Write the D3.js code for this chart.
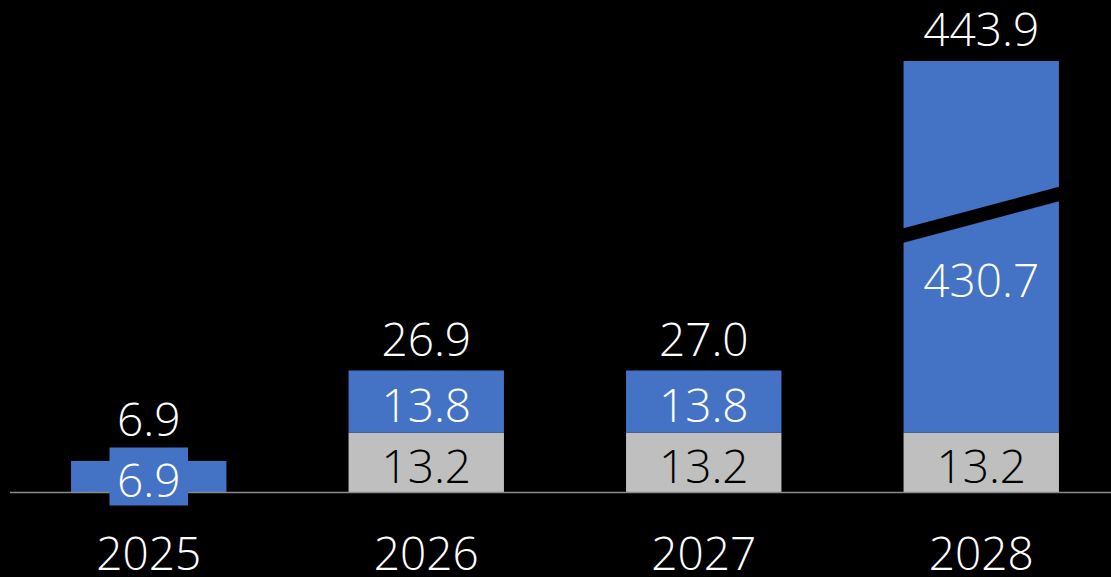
<!DOCTYPE html>
<html><head><meta charset="utf-8">
<script src="https://cdn.jsdelivr.net/npm/d3@7"></script>
<style>html,body{margin:0;padding:0;background:#000;} svg{display:block;}</style>
</head><body>
<svg id="chart" width="1111" height="577"></svg>
<script>
const categories = ["2025", "2026", "2027", "2028"];
const baseValues = [0, 13.2, 13.2, 13.2];
const growthValues = [6.9, 13.8, 13.8, 430.7];
const totalValues = [6.9, 26.9, 27.0, 443.9];
const brokenBars = [false, false, false, true];

const W = 1111, H = 577;
const BLUE = "#4472C4", GRAY = "#BFBFBF";
const FONT = "'Open Sans', 'Noto Sans', sans-serif";
const FS = 46;
const FW = 300;

const svg = d3.select("#chart").style("background", "#000");
svg.append("rect").attr("width", W).attr("height", H).attr("fill", "#000");

const x = d3.scaleBand().domain(categories).range([10, 1120]).paddingInner(0.44).paddingOuter(0.22);

const y0 = 492, k = 4.5, breakLo = 60, breakHi = 420, gapPx = 14.5;
const maxTotal = d3.max(totalValues);
const y = d3.scaleLinear()
  .domain([0, breakLo, breakHi, maxTotal])
  .range([y0, y0 - k * breakLo, y0 - k * breakLo - gapPx, 61]);

const segs = [];
categories.forEach((c, i) => {
  const total = baseValues[i] + growthValues[i];
  if (baseValues[i] > 0) segs.push({c, i, v0: 0, v1: baseValues[i], fill: GRAY, text: d3.format(".1f")(baseValues[i]), tc: "#000", box: false});
  segs.push({c, i, v0: baseValues[i], v1: total, fill: BLUE, text: d3.format(".1f")(growthValues[i]), tc: "#fff", box: true});
});

const bw = x.bandwidth();
// bars
svg.append("g").selectAll("rect").data(segs).join("rect")
  .attr("x", d => x(d.c))
  .attr("width", bw)
  .attr("y", d => y(d.v1))
  .attr("height", d => y(d.v0) - y(d.v1))
  .attr("fill", d => d.fill);

// break bands
const slope = 41 / 154;
const gBreak = svg.append("g");
categories.forEach((c, i) => {
  if (!brokenBars[i]) return;
  const xl = x(c) - 1, xr = x(c) + bw + 1, xc = x(c) + bw / 2;
  const lo = y(breakLo), hi = y(breakHi);
  const pts = [
    [xl, hi + slope * (xc - xl)], [xr, hi - slope * (xr - xc)],
    [xr, lo - slope * (xr - xc)], [xl, lo + slope * (xc - xl)]
  ];
  gBreak.append("polygon").attr("points", pts.map(p => p.join(",")).join(" ")).attr("fill", "#000");
});

// axis
const axis = d3.axisBottom(x).tickSize(0).tickSizeOuter(0).tickPadding(45);
const gAxis = svg.append("g").attr("transform", `translate(0,${y0 + 0.5})`).call(axis);
gAxis.select(".domain").attr("stroke", "#8a8a8a").attr("stroke-width", 1.5).attr("d", `M10,0H${W}`);
gAxis.selectAll("text").attr("fill", "#fff").style("font-family", FONT).style("font-size", FS + "px").style("font-weight", FW);

// segment labels
const boxTops = {};
const gLab = svg.append("g");
segs.forEach(d => {
  const total = baseValues[d.i] + growthValues[d.i];
  const crosses = brokenBars[d.i] && d.v1 > breakLo;
  const cy = crosses ? (y(0) + y(total)) / 2 : (y(d.v0) + y(d.v1)) / 2;
  const cx = x(d.c) + bw / 2;
  const t = gLab.append("text").attr("x", cx).attr("y", cy + 20.5)
    .attr("text-anchor", "middle").attr("fill", d.tc)
    .style("font-family", FONT).style("font-size", FS + "px").style("font-weight", FW).text(d.text);
  if (d.box) {
    const w = t.node().getComputedTextLength() + 15;
    gLab.insert("rect", () => t.node())
      .attr("x", cx - w / 2).attr("y", cy - 29).attr("width", w).attr("height", 58)
      .attr("fill", d.fill);
    boxTops[d.i] = Math.min(boxTops[d.i] ?? Infinity, cy - 29);
  }
});

// total labels
svg.append("g").selectAll("text").data(categories).join("text")
  .attr("x", c => x(c) + bw / 2)
  .attr("y", (c, i) => {
    const top = y(baseValues[i] + growthValues[i]);
    return Math.min(top - 15, (boxTops[i] ?? Infinity) - 11);
  })
  .attr("text-anchor", "middle").attr("fill", "#fff")
  .style("font-family", FONT).style("font-size", FS + "px").style("font-weight", FW)
  .text((c, i) => d3.format(".1f")(totalValues[i]));
</script>
</body></html>
